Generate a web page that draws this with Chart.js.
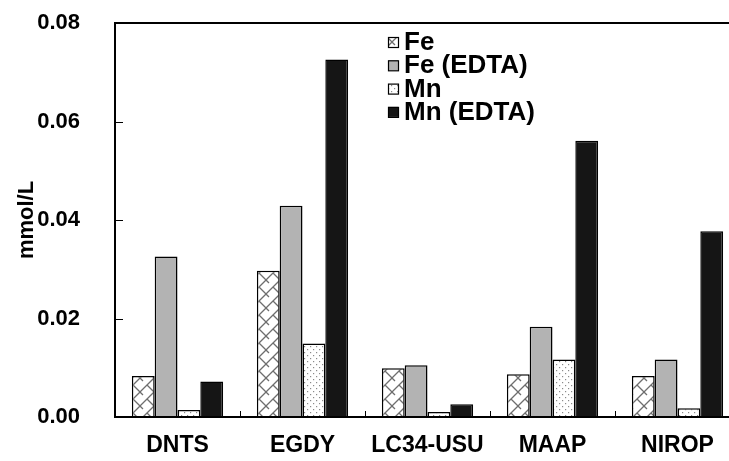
<!DOCTYPE html>
<html>
<head>
<meta charset="utf-8">
<script src="https://cdn.jsdelivr.net/npm/chart.js@4.4.1/dist/chart.umd.min.js"></script>
<style>
html,body{margin:0;padding:0;background:#fff;overflow:hidden;width:729px;height:461px;}
canvas{display:block;}
</style>
</head>
<body>
<canvas id="c" width="760" height="461"></canvas>
<script>
const categories = ['DNTS', 'EGDY', 'LC34-USU', 'MAAP', 'NIROP'];
const feValues = [0.0083, 0.0297, 0.0099, 0.0087, 0.0083];
const feEdtaValues = [0.0326, 0.0429, 0.0105, 0.0183, 0.0117];
const mnValues = [0.0014, 0.0149, 0.0010, 0.0117, 0.0018];
const mnEdtaValues = [0.0072, 0.0726, 0.0026, 0.0561, 0.0377];
const seriesLabels = ['Fe', 'Fe (EDTA)', 'Mn', 'Mn (EDTA)'];
const yTicks = [0, 0.02, 0.04, 0.06, 0.08];

const FONT = "'Liberation Sans', Arial, sans-serif";

function makeHatch() {
  const s = 14;
  const c = document.createElement('canvas');
  c.width = s; c.height = s;
  const g = c.getContext('2d');
  g.fillStyle = '#fff'; g.fillRect(0, 0, s, s);
  g.strokeStyle = '#6e6e6e'; g.lineWidth = 1.3;
  g.beginPath();
  g.moveTo(0, s); g.lineTo(s, 0);
  g.moveTo(-2, 2); g.lineTo(2, -2);
  g.moveTo(s - 2, s + 2); g.lineTo(s + 2, s - 2);
  g.moveTo(s / 2, s / 2); g.lineTo(s, s);
  g.moveTo(0, 0); g.lineTo(s / 2 - 4, s / 2 - 4);
  g.stroke();
  return g.createPattern(c, 'repeat');
}
function makeDots() {
  const s = 6;
  const c = document.createElement('canvas');
  c.width = s; c.height = s;
  const g = c.getContext('2d');
  g.fillStyle = '#fff'; g.fillRect(0, 0, s, s);
  g.fillStyle = '#8a8a8a';
  g.fillRect(1, 1, 1.2, 1.2);
  g.fillRect(4, 4, 1.2, 1.2);
  return g.createPattern(c, 'repeat');
}
const hatch = makeHatch();
const dots = makeDots();
const fills = [hatch, '#b3b3b3', dots, '#151515'];
const seriesData = [feValues, feEdtaValues, mnValues, mnEdtaValues];

const frame = {
  id: 'frame',
  afterDatasetsDraw(chart) {
    const ctx = chart.ctx;
    const a = chart.chartArea;
    const y = chart.scales.y, x = chart.scales.x;
    ctx.save();
    ctx.strokeStyle = '#000';
    ctx.lineWidth = 2;
    ctx.beginPath();
    ctx.moveTo(a.left, a.top); ctx.lineTo(chart.width, a.top);
    ctx.moveTo(a.left, a.top - 1); ctx.lineTo(a.left, a.bottom + 1);
    ctx.moveTo(a.left - 1, a.bottom); ctx.lineTo(chart.width, a.bottom);
    ctx.stroke();
    ctx.lineWidth = 1;
    ctx.beginPath();
    yTicks.forEach(v => {
      if (v === 0 || v === 0.08) return;
      const py = Math.round(y.getPixelForValue(v)) + 0.5;
      ctx.moveTo(a.left, py); ctx.lineTo(a.left + 8, py);
    });
    for (let i = 1; i < categories.length; i++) {
      const px = Math.round((x.getPixelForValue(i - 1) + x.getPixelForValue(i)) / 2) + 0.5;
      ctx.moveTo(px, a.bottom); ctx.lineTo(px, a.bottom - 6);
    }
    ctx.stroke();
    // legend
    ctx.font = 'bold 26px ' + FONT;
    ctx.textBaseline = 'middle';
    ctx.textAlign = 'left';
    const lx = 388, ly0 = 42, dy = 23.3;
    chart.data.datasets.forEach((ds, i) => {
      const cy = ly0 + i * dy;
      ctx.fillStyle = ds.backgroundColor;
      ctx.fillRect(lx, cy - 5, 10, 10);
      ctx.lineWidth = 1.2;
      ctx.strokeStyle = '#000';
      ctx.strokeRect(lx + 0.5, cy - 4.5, 10, 10);
      ctx.fillStyle = '#000';
      ctx.fillText(ds.label, lx + 16, cy + 1);
    });
    ctx.restore();
  }
};

new Chart(document.getElementById('c'), {
  type: 'bar',
  data: {
    labels: categories,
    datasets: seriesLabels.map((lab, i) => ({
      label: lab,
      data: seriesData[i],
      backgroundColor: fills[i],
      borderColor: '#000',
      borderWidth: 1.5,
      borderSkipped: 'bottom',
      categoryPercentage: 0.73,
      barPercentage: 1.0
    }))
  },
  options: {
    responsive: false,
    animation: false,
    devicePixelRatio: 1,
    layout: { padding: { top: 23, right: 20, left: 0, bottom: 0 } },
    plugins: { legend: { display: false }, tooltip: { enabled: false } },
    scales: {
      x: {
        grid: { display: true, drawOnChartArea: false, drawTicks: true, tickLength: 14, tickColor: 'rgba(0,0,0,0)' },
        border: { display: false },
        ticks: { color: '#000', font: { family: FONT, size: 23, weight: 'bold' }, padding: 1, maxRotation: 0 },
        afterFit(s) { s.height = 44; }
      },
      y: {
        min: 0, max: 0.08,
        grid: { display: true, drawOnChartArea: false, drawTicks: true, tickLength: 34, tickColor: 'rgba(0,0,0,0)' },
        border: { display: false },
        afterBuildTicks(s) { s.ticks = yTicks.map(v => ({ value: v })); },
        ticks: {
          color: '#000', font: { family: FONT, size: 22, weight: 'bold' }, padding: 1,
          callback: v => Number(v).toFixed(2)
        },
        title: { display: true, text: 'mmol/L', color: '#000', font: { family: FONT, size: 22, weight: 'bold' }, padding: { top: 14, bottom: 0 } },
        afterFit(s) { s.width = 115; }
      }
    }
  },
  plugins: [frame]
});
</script>
</body>
</html>
